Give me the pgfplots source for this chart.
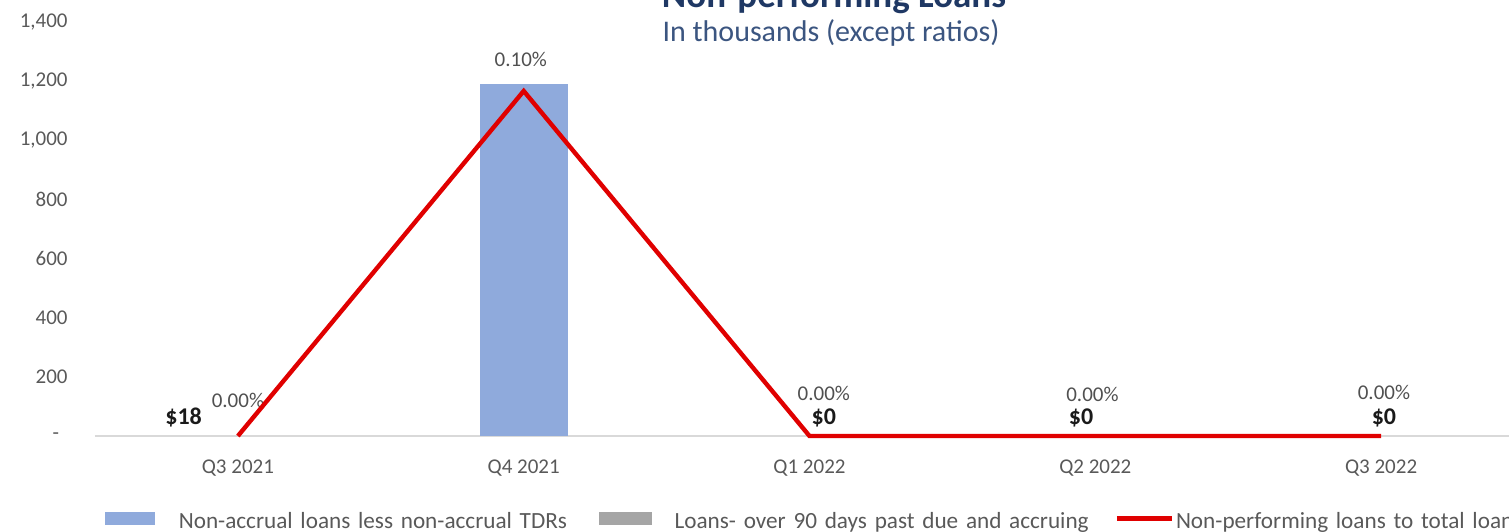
\documentclass[border=0pt]{standalone}
\usepackage{pgfplots}
\pgfplotsset{compat=1.18}
\usepackage{fontspec}
\setmainfont{Carlito}
\definecolor{barblue}{HTML}{8FAADC}
\definecolor{bargray}{HTML}{A5A5A5}
\definecolor{linered}{HTML}{E00000}
\definecolor{ticktxt}{HTML}{595959}
\definecolor{pcttxt}{HTML}{505050}
\definecolor{labtxt}{HTML}{1A1A1A}
\definecolor{subblue}{HTML}{3B5580}
\definecolor{titleblue}{HTML}{1F3864}
\tikzset{dlab/.style={font=\bfseries\fontsize{12}{14}\selectfont, text=labtxt, inner sep=0pt},
         plab/.style={font=\fontsize{10.5}{12}\selectfont, text=pcttxt, inner sep=0pt}}
\pgfplotsset{
  common/.style={scale only axis, width=714.5pt, height=207pt,
    at={(0pt,0pt)}, anchor=south west, xmin=-0.5, xmax=4.5,
    enlargelimits=false, clip=false},
}
\begin{document}
\begin{tikzpicture}[x=1pt,y=1pt]
\path[use as bounding box] (-47.5,-47.5) rectangle (707,218);
\clip (-47.5,-47.5) rectangle (707,218);
\begin{axis}[common, ymin=0, ymax=1400, ybar stacked, bar width=44pt,
  axis x line=bottom, axis y line=left,
  x axis line style={-, draw=black!15, line width=0.75pt},
  y axis line style={draw=none},
  xtick={0,1,2,3,4},
  xticklabels={Q3 2021,Q4 2021,Q1 2022,Q2 2022,Q3 2022},
  ytick={0,200,400,600,800,1000,1200,1400},
  yticklabels={{\makebox[7.5pt][l]{-}},200,400,600,800,{1,000},{1,200},{1,400}},
  major tick length=0pt, tick style={draw=none},
  xticklabel style={font=\fontsize{10.5}{12}\selectfont, text=ticktxt, inner sep=0pt, anchor=north, yshift=-11.5pt},
  yticklabel style={font=\fontsize{10.5}{12}\selectfont, text=ticktxt, inner sep=0pt, anchor=east, xshift=-13.5pt},
]
\addplot+[fill=barblue, draw=none, mark=none] coordinates {(0,0) (1,1190) (2,0) (3,0) (4,0)};
\addplot+[fill=bargray, draw=none, mark=none] coordinates {(0,0) (1,0) (2,0) (3,0) (4,0)};
\node[dlab] at (axis cs:-0.19,61) {\$18};
\node[dlab] at (axis cs:1,61) {\$1,190};
\node[dlab] at (axis cs:2.05,61) {\$0};
\node[dlab] at (axis cs:2.95,61) {\$0};
\node[dlab] at (axis cs:4.01,61) {\$0};
\node[plab] at (axis cs:0,122) {0.00\%};
\node[plab] at (axis cs:0.99,1272) {0.10\%};
\node[plab] at (axis cs:2.05,145) {0.00\%};
\node[plab] at (axis cs:2.99,139) {0.00\%};
\node[plab] at (axis cs:4.01,149) {0.00\%};
\end{axis}
\begin{axis}[common, ymin=0, ymax=0.12, hide axis,
  legend columns=3, legend cell align=left,
  legend style={at={(axis description cs:0.0070,-0.2072)}, anchor=west,
    draw=none, fill=none, inner sep=0pt, outer sep=0pt,
    /tikz/column sep=0pt,
    nodes={inner sep=0pt, text width=210pt, font=\fontsize{11.6}{13}\selectfont, text=ticktxt}},
]
\addlegendimage{legend image code/.code={\path (0pt,0pt); \fill[barblue] (0pt,-1.5pt) rectangle (24.5pt,4.5pt); \path (36.5pt,0pt);}}
\addlegendentry{Non-accrual loans less non-accrual TDRs}
\addlegendimage{legend image code/.code={\path (0pt,0pt); \fill[bargray] (0pt,-1.5pt) rectangle (26pt,4.5pt); \path (37.5pt,0pt);}}
\addlegendentry{Loans- over 90 days past due and accruing}
\addplot[linered, line width=2.2pt, mark=none,
  legend image code/.code={\path (0pt,0pt); \draw[linered, line width=2.5pt] (10pt,1.5pt)--(37.5pt,1.5pt); \path (38.5pt,0pt);}]
  coordinates {(0,0) (1,0.10) (2,0) (3,0) (4,0)};
\addlegendentry{Non-performing loans to total loans}
\end{axis}
\node[font=\bfseries\fontsize{18.5}{20}\selectfont, text=titleblue, anchor=base, inner sep=0pt] at (369.5,214.5) {Non-performing Loans};
\node[font=\fontsize{15}{17}\selectfont, text=subblue, anchor=base, inner sep=0pt] at (368,197) {In thousands (except ratios)};
\end{tikzpicture}
\end{document}
